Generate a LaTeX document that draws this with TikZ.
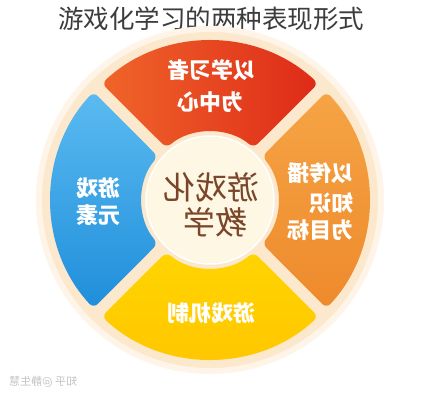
\documentclass[tikz,border=0pt]{standalone}
\usepackage{fontspec}
\usepackage{graphicx}
\newfontfamily\cjk{Noto Sans CJK SC}
\definecolor{titlegray}{HTML}{3C3C3C}
\definecolor{creamA}{HTML}{FCE8CC}
\definecolor{creamB}{HTML}{FEF4E8}
\definecolor{centerfill}{HTML}{FEF7E4}
\definecolor{redL}{HTML}{F0652A}
\definecolor{redR}{HTML}{DE2A18}
\definecolor{orT}{HTML}{F5A445}
\definecolor{orB}{HTML}{EE8A2C}
\definecolor{yeT}{HTML}{FFD400}
\definecolor{yeB}{HTML}{FFC600}
\definecolor{blT}{HTML}{5BBBF0}
\definecolor{blB}{HTML}{1F8EDB}
\definecolor{brown}{HTML}{7A4528}
\definecolor{wm}{HTML}{C4C4C4}
\tikzset{
  sectortext/.style={text=white, font=\cjk\bfseries\fontsize{22}{24}\selectfont, inner sep=0pt},
  sect/.style={rounded corners=6pt},
}
\newcommand{\sectorpath}[2]{%
  (#1+2.1:159) arc[start angle=#1+2.1, end angle=#2-2.1, radius=159]
  -- (#2-5.1:68) arc[start angle=#2-5.1, end angle=#1+5.1, radius=68] -- cycle}
\begin{document}
\begin{tikzpicture}[x=1pt,y=1pt]
\useasboundingbox (0,0) rectangle (422,400);
\fill[white] (0,0) rectangle (422,400);
\node[font=\cjk\fontsize{25.5}{27}\selectfont, text=titlegray, inner sep=0pt] (title) at (211,381) {游戏化学习的两种表现形式};
\begin{scope}[shift={(210,200)}]
  \fill[creamB] (0,0) circle (174);
  \fill[creamA] (0,0) circle (168);
  \shade[sect, left color=redL, right color=redR] \sectorpath{45}{135};
  \shade[sect, top color=orT, bottom color=orB] \sectorpath{-45}{45};
  \shade[sect, top color=yeT, bottom color=yeB] \sectorpath{225}{315};
  \shade[sect, top color=blT, bottom color=blB] \sectorpath{135}{225};
  \fill[centerfill, draw=white, line width=1.5pt] (0,0) circle (64);
\end{scope}
% red
\node[sectortext] (r1) at (211,330) {\reflectbox{以学习者}};
\node[sectortext] (r2) at (210,298) {\reflectbox{为中心}};
% orange
\node[sectortext, anchor=east] (o1) at (354,227) {\reflectbox{以传播}};
\node[sectortext, anchor=east] (o2) at (354,197) {\reflectbox{知识}};
\node[sectortext, anchor=east] (o3) at (354,170) {\reflectbox{为目标}};
% blue
\node[sectortext] (b1) at (98,212) {\reflectbox{游戏}};
\node[sectortext] (b2) at (98,185) {\reflectbox{元素}};
% yellow
\node[sectortext] (y1) at (211,87) {\reflectbox{游戏机制}};
% center
\node[text=brown, font=\cjk\fontsize{32}{34}\selectfont, inner sep=0pt] (c1) at (211,213) {\reflectbox{游戏化}};
\node[text=brown, font=\cjk\fontsize{32}{34}\selectfont, inner sep=0pt] (c2) at (215,178) {\reflectbox{教学}};
% watermark
\node[text=wm, font=\cjk\fontsize{11}{12}\selectfont, inner sep=0pt, anchor=west] (wm) at (9,18) {\reflectbox{知乎 @静生慧}};
\end{tikzpicture}
\end{document}
